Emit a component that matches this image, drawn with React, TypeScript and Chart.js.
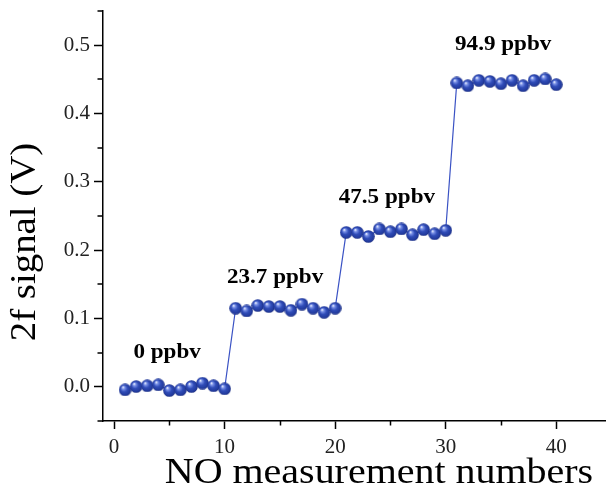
import React, { useEffect, useRef } from "react";
import { Chart, registerables } from "chart.js";

Chart.register(...registerables);

// ---- data ----
const measurementNumbers = Array.from({ length: 40 }, (_, i) => i + 1);
const signal0ppbv = [-0.0044, 0.0004, 0.0015, 0.0029, -0.0054, -0.0044, 0.0004, 0.0054, 0.0015, -0.0029];
const signal23ppbv = [0.115, 0.111, 0.119, 0.1175, 0.1175, 0.112, 0.121, 0.115, 0.109, 0.115];
const signal47ppbv = [0.226, 0.226, 0.22, 0.231, 0.227, 0.231, 0.2225, 0.23, 0.224, 0.229];
const signal94ppbv = [0.4447, 0.4407, 0.4485, 0.447, 0.4436, 0.4485, 0.4407, 0.4485, 0.4505, 0.4422];

const concentrationLabels = ["0 ppbv", "23.7 ppbv", "47.5 ppbv", "94.9 ppbv"];
const labelX = [4.8, 14.57, 24.68, 35.2];
const labelY = [0.042, 0.152, 0.269, 0.493];

const xMajorTicks = [0, 10, 20, 30, 40];
const xMinorTicks = [5, 15, 25, 35];
const yMajorTicks = [0, 0.1, 0.2, 0.3, 0.4, 0.5];
const yMinorTicks = [-0.05, 0.05, 0.15, 0.25, 0.35, 0.45, 0.55];

const xTitle = "NO measurement numbers";
const yTitle = "2f signal (V)";

const SERIF = "'Liberation Serif', 'Times New Roman', serif";

function makeSphere(): HTMLCanvasElement {
  const c = document.createElement("canvas");
  c.width = 13;
  c.height = 13;
  const g = c.getContext("2d")!;
  const grad = g.createRadialGradient(4.3, 3.8, 0.3, 6.5, 6.5, 6.6);
  grad.addColorStop(0, "#eef2ff");
  grad.addColorStop(0.2, "#7890e6");
  grad.addColorStop(0.5, "#304cb8");
  grad.addColorStop(0.85, "#223a9c");
  grad.addColorStop(1, "#1a2a78");
  g.beginPath();
  g.arc(6.5, 6.5, 6.3, 0, Math.PI * 2);
  g.fillStyle = grad;
  g.fill();
  return c;
}

const extrasPlugin = {
  id: "extras",
  afterDraw(chart: any) {
    const ctx = chart.ctx as CanvasRenderingContext2D;
    const xs = chart.scales.x;
    const ys = chart.scales.y;
    const area = chart.chartArea;
    ctx.save();
    // minor ticks
    ctx.strokeStyle = "#000";
    ctx.lineWidth = 1.5;
    ctx.beginPath();
    xMinorTicks.forEach((v) => {
      const px = Math.round(xs.getPixelForValue(v)) + 0.5;
      ctx.moveTo(px, area.bottom);
      ctx.lineTo(px, area.bottom + 4.5);
    });
    yMinorTicks.forEach((v) => {
      const py = Math.round(ys.getPixelForValue(v));
      ctx.moveTo(area.left, py);
      ctx.lineTo(area.left - 5.5, py);
    });
    ctx.stroke();

    // concentration annotations
    ctx.fillStyle = "#000";
    ctx.textAlign = "center";
    ctx.textBaseline = "alphabetic";
    ctx.font = `bold 21px ${SERIF}`;
    concentrationLabels.forEach((t, i) => {
      const px = xs.getPixelForValue(labelX[i]);
      const py = ys.getPixelForValue(labelY[i]);
      ctx.save();
      ctx.translate(px, py);
      ctx.scale(1.1, 1);
      ctx.fillText(t, 0, 0);
      ctx.restore();
    });

    // axis titles
    ctx.font = `36px ${SERIF}`;
    ctx.save();
    ctx.translate(379, 483);
    ctx.scale(1.11, 1);
    ctx.fillText(xTitle, 0, 0);
    ctx.restore();

    ctx.font = `35px ${SERIF}`;
    ctx.save();
    ctx.translate(35, 242);
    ctx.rotate(-Math.PI / 2);
    ctx.scale(1.11, 1);
    ctx.fillText(yTitle, 0, 0);
    ctx.restore();

    ctx.restore();
  },
};

export default function App() {
  const canvasRef = useRef<HTMLCanvasElement | null>(null);

  useEffect(() => {
    const canvas = canvasRef.current;
    if (!canvas) return;
    const sphere = makeSphere();
    const allSignals = [...signal0ppbv, ...signal23ppbv, ...signal47ppbv, ...signal94ppbv];
    const points = measurementNumbers.map((n, i) => ({ x: n, y: allSignals[i] }));

    const chart = new Chart(canvas, {
      type: "line",
      data: {
        datasets: [
          {
            data: points,
            borderColor: "#3a52c4",
            borderWidth: 1.2,
            pointStyle: sphere as any,
            pointRadius: 6,
            tension: 0,
            fill: false,
          },
        ],
      },
      options: {
        animation: false,
        responsive: false,
        events: [],
        layout: { autoPadding: false, padding: { top: 11, right: 0, left: 0, bottom: 0 } },
        plugins: { legend: { display: false }, tooltip: { enabled: false } },
        scales: {
          x: {
            type: "linear",
            min: -1,
            max: 44.5,
            afterBuildTicks: (s: any) => {
              s.ticks = xMajorTicks.map((v) => ({ value: v }));
            },
            afterFit: (s: any) => {
              s.height = 68;
              s.paddingLeft = 0;
              s.paddingRight = 0;
            },
            grid: {
              drawOnChartArea: false,
              drawTicks: true,
              tickLength: 8,
              tickColor: "#000",
              tickWidth: 1.5,
            },
            border: { display: true, color: "#000", width: 1.5 },
            ticks: {
              font: { family: SERIF, size: 21 },
              color: "#222",
              padding: 6,
              maxRotation: 0,
              autoSkip: false,
              callback: (v: any) => String(v),
            },
          },
          y: {
            type: "linear",
            min: -0.05,
            max: 0.55,
            afterBuildTicks: (s: any) => {
              s.ticks = yMajorTicks.map((v) => ({ value: v }));
            },
            afterFit: (s: any) => {
              s.width = 103;
              s.paddingTop = 0;
              s.paddingBottom = 0;
            },
            grid: {
              drawOnChartArea: false,
              drawTicks: true,
              tickLength: 9,
              tickColor: "#000",
              tickWidth: 1.5,
            },
            border: { display: true, color: "#000", width: 1.5 },
            ticks: {
              font: { family: SERIF, size: 21 },
              color: "#222",
              padding: 4,
              autoSkip: false,
              callback: (v: any) => Number(v).toFixed(1),
            },
          },
        },
      },
      plugins: [extrasPlugin],
    });
    return () => chart.destroy();
  }, []);

  return (
    <div style={{ position: "absolute", left: 0, top: 0, width: 606, height: 489, overflow: "hidden", background: "#fff" }}>
      <canvas ref={canvasRef} width={606} height={489} style={{ display: "block" }} />
    </div>
  );
}
